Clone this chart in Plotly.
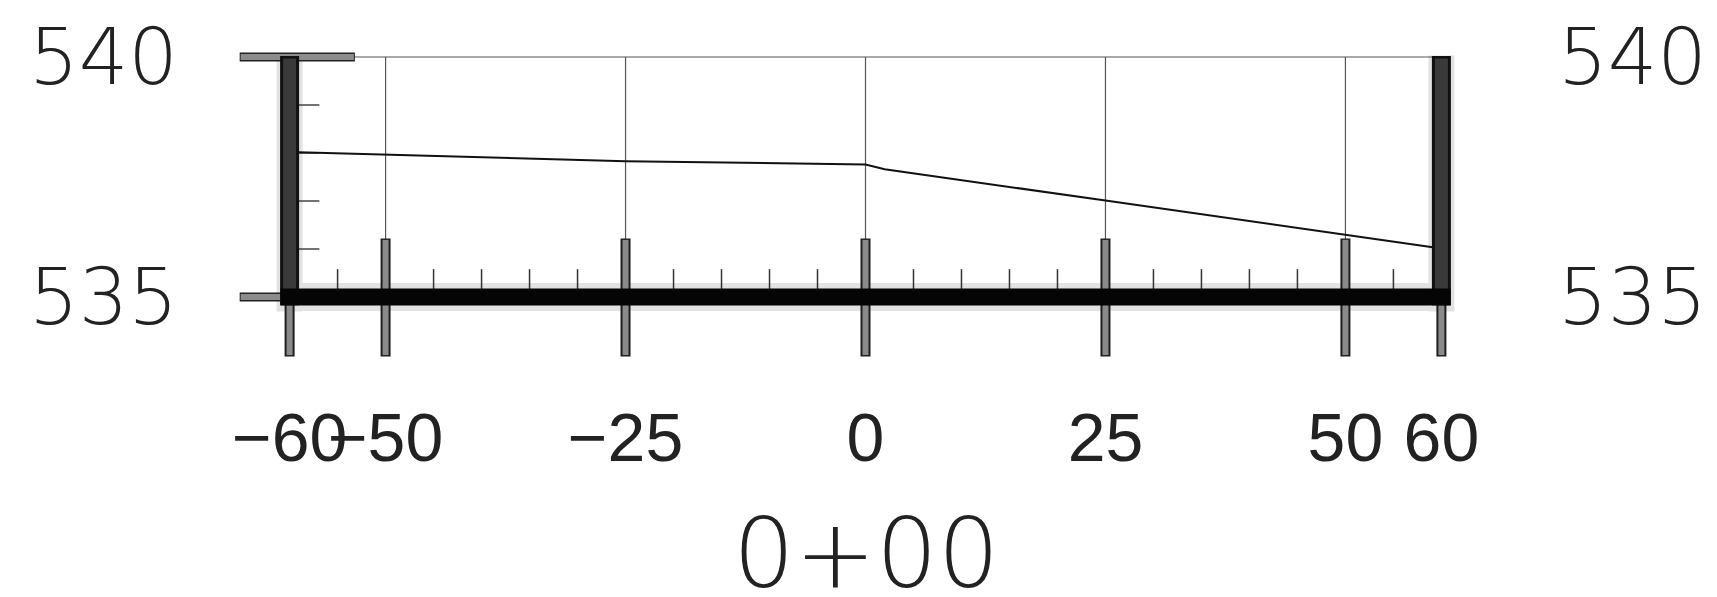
import plotly.graph_objects as go

# ---- data ----
stations = [-50, -25, 0, 25, 50]          # interior station offsets
edges = [-60, 60]                          # section limits
x_tick_vals = [-60, -50, -25, 0, 25, 50, 60]
x_tick_text = ["\u221260", "\u221250", "\u221225", "0", "25", "50", "60"]
elev_tick_vals = [535, 540]
elev_tick_text = ["535", "540"]
elev_minor = [536, 537, 538, 539]
station_minor = [-55, -45, -40, -35, -30, -20, -15, -10, -5, 5, 10, 15, 20, 30, 35, 40, 45, 55]
datum = 535
top_elev = 540
profile_x = [-60, -50, -25, 0, 2, 25, 50, 60]
profile_y = [538.02, 537.97, 537.83, 537.76, 537.66, 537.01, 536.29, 536.01]
section_title = "0+00"

# ---- styling ----
X_RANGE = [-66, 66]
Y_RANGE = [533.5, 540.5]
bar_low = 533.79
bar_high = 536.19

fig = go.Figure()

def seg(xs, ys, color, width, yaxis="y"):
    fig.add_trace(go.Scatter(x=xs, y=ys, mode="lines", line=dict(color=color, width=width),
                             hoverinfo="skip", showlegend=False, yaxis=yaxis))

# halos
seg([edges[0] - 1.2, edges[1] + 1.2], [datum, datum], "#e2e2e2", 28)
for e in edges:
    seg([e, e], [datum - 0.3, top_elev + 0.03], "#e2e2e2", 26)

# thin grid lines at stations and top line
gx, gy = [], []
for s in stations:
    gx += [s, s, None]
    gy += [bar_high, top_elev, None]
seg(gx, gy, "#555555", 1.2)
seg([-53.3, edges[1]], [top_elev, top_elev], "#555555", 1.2)

# minor ticks on the datum line
mx, my = [], []
for s in station_minor:
    mx += [s, s, None]
    my += [datum, datum + 0.58, None]
seg(mx, my, "#333333", 1.5)

# minor elevation ticks on left wall
ex, ey = [], []
for e in elev_minor:
    ex += [edges[0], edges[0] + 3.1, None]
    ey += [e, e, None]
seg(ex, ey, "#444444", 1.5)

# profile line
seg(profile_x, profile_y, "#111111", 2)

# top-left stub and bottom-left stub (gray with outline)
seg([-65.2, -53.2], [top_elev, top_elev], "#222222", 9)
seg([-65.1, -53.3], [top_elev, top_elev], "#8c8c8c", 6)
seg([-65.2, edges[0]], [datum, datum], "#222222", 9)
seg([-65.1, edges[0]], [datum, datum], "#8c8c8c", 6)

# station bars
bx, by, bx2, by2 = [], [], [], []
for s in stations:
    bx += [s, s, None]
    by += [bar_low - 0.03, bar_high + 0.03, None]
    bx2 += [s, s, None]
    by2 += [bar_low, bar_high, None]
for e in edges:
    bx += [e, e, None]
    by += [bar_low - 0.03, datum, None]
    bx2 += [e, e, None]
    by2 += [bar_low, datum, None]
seg(bx, by, "#1e1e1e", 10)
seg(bx2, by2, "#8a8a8a", 6)

# walls
for e in edges:
    seg([e, e], [datum - 0.17, top_elev + 0.02], "#111111", 19)
    seg([e, e], [datum, top_elev - 0.03], "#3a3a3a", 13)

# datum line
seg([edges[0] - 0.95, edges[1] + 0.95], [datum, datum], "#050505", 17)

# invisible trace for right axis
fig.add_trace(go.Scatter(x=[edges[0]], y=[datum], mode="markers", marker=dict(opacity=0),
                         hoverinfo="skip", showlegend=False, yaxis="y2"))

ylab_font = dict(family="DejaVu Sans, sans-serif", size=78, color="#222222", weight=200)

fig.update_layout(
    width=1717, height=597,
    margin=dict(l=224, r=226, t=25, b=236, autoexpand=False),
    paper_bgcolor="white", plot_bgcolor="white",
    xaxis=dict(range=X_RANGE, tickmode="array", tickvals=x_tick_vals, ticktext=x_tick_text,
               showgrid=False, zeroline=False, showline=False, ticks="", tickangle=0,
               automargin=False,
               tickfont=dict(family="Liberation Sans Narrow, Liberation Sans, sans-serif",
                             size=68, color="#222222"),
               ticklabelstandoff=23),
    yaxis=dict(range=Y_RANGE, tickmode="array", tickvals=elev_tick_vals, ticktext=elev_tick_text,
               showgrid=False, zeroline=False, showline=False, ticks="", automargin=False,
               tickfont=ylab_font, ticklabelstandoff=53),
    yaxis2=dict(range=Y_RANGE, overlaying="y", side="right", tickmode="array",
                tickvals=elev_tick_vals, ticktext=elev_tick_text, automargin=False,
                showgrid=False, zeroline=False, showline=False, ticks="",
                tickfont=ylab_font, ticklabelstandoff=58),
    annotations=[dict(x=0, xref="x", y=0, yref="paper", yanchor="middle", yshift=-184,
                      text=section_title, showarrow=False,
                      font=dict(family="DejaVu Sans, sans-serif", size=97, color="#222222", weight=200))],
)

fig.write_html("out.html")
